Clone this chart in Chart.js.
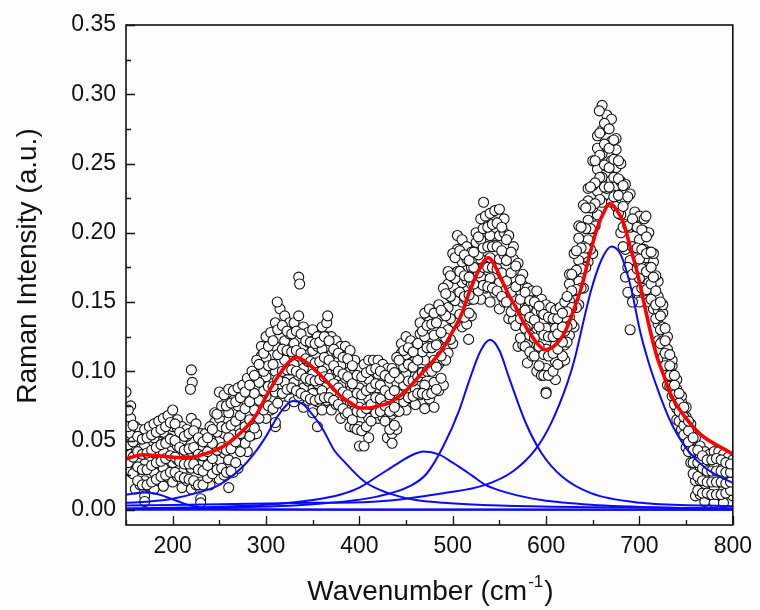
<!DOCTYPE html>
<html>
<head>
<meta charset="utf-8">
<script src="https://cdn.jsdelivr.net/npm/chart.js@4.4.1/dist/chart.umd.min.js"></script>
<style>
  html, body { margin: 0; padding: 0; background: #fdfdfd; }
  #wrap { width: 760px; height: 610px; }
</style>
</head>
<body>
<div id="wrap"><canvas id="raman" width="760" height="610"></canvas></div>
<script>
const wavenumber = [150,155,160,165,170,175,180,185,190,195,200,205,210,215,220,225,230,235,240,245,
  250,255,260,265,270,275,280,285,290,295,300,305,310,315,320,325,330,335,340,345,
  350,355,360,365,370,375,380,385,390,395,400,405,410,415,420,425,430,435,440,445,
  450,455,460,465,470,475,480,485,490,495,500,505,510,515,520,525,530,535,540,545,
  550,555,560,565,570,575,580,585,590,595,600,605,610,615,620,625,630,635,640,645,
  650,655,660,665,670,675,680,685,690,695,700,705,710,715,720,725,730,735,740,745,
  750,755,760,765,770,775,780,785,790,795,800];
const rawLow = [.030,.028,.015,.018,.010,.017,.015,.021,.017,.024,.020,.024,.016,.021,.015,.018,.008,.020,.018,.026,
  .022,.025,.016,.027,.030,.043,.042,.054,.055,.067,.066,.072,.060,.079,.075,.087,.078,.082,.074,.079,
  .070,.078,.072,.079,.072,.076,.066,.069,.060,.059,.046,.057,.052,.066,.066,.067,.052,.055,.058,.074,
  .072,.080,.076,.083,.073,.080,.074,.086,.090,.113,.120,.138,.132,.134,.140,.154,.152,.160,.150,.157,
  .145,.150,.138,.137,.118,.119,.106,.111,.100,.097,.085,.097,.094,.106,.108,.126,.132,.148,.160,.179,
  .185,.213,.222,.232,.222,.219,.200,.168,.130,.154,.150,.158,.150,.145,.122,.110,.090,.082,.065,.058,
  .045,.034,.010,.011,.006,.011,.005,.011,.005,.012,.010];
const rawQ1 = [.046,.040,.028,.030,.021,.031,.027,.036,.030,.039,.034,.036,.027,.034,.030,.032,.020,.030,.028,.038,
  .036,.041,.036,.047,.046,.059,.056,.068,.068,.082,.082,.091,.085,.099,.092,.101,.092,.097,.088,.093,
  .084,.091,.086,.095,.085,.089,.078,.082,.072,.072,.060,.071,.066,.078,.076,.078,.066,.069,.071,.086,
  .086,.092,.087,.099,.090,.100,.092,.105,.108,.130,.136,.156,.150,.151,.152,.168,.168,.176,.167,.175,
  .164,.168,.154,.153,.134,.134,.120,.125,.115,.114,.102,.112,.107,.118,.119,.139,.146,.165,.176,.195,
  .203,.230,.240,.248,.238,.234,.213,.188,.156,.173,.167,.175,.164,.157,.134,.122,.100,.090,.073,.065,
  .053,.043,.021,.021,.015,.020,.015,.021,.014,.020,.017];
const rawMid = [.058,.055,.040,.041,.033,.043,.041,.049,.042,.052,.049,.046,.038,.041,.042,.043,.032,.040,.040,.050,
  .050,.055,.052,.062,.060,.071,.070,.082,.082,.097,.096,.105,.100,.115,.108,.115,.105,.111,.102,.107,
  .098,.103,.100,.109,.098,.101,.090,.095,.086,.087,.074,.085,.080,.090,.088,.089,.078,.083,.084,.099,
  .098,.104,.097,.112,.108,.118,.108,.122,.125,.146,.152,.172,.164,.166,.163,.180,.181,.190,.182,.191,
  .181,.184,.168,.167,.148,.148,.133,.138,.129,.128,.116,.125,.119,.129,.129,.151,.158,.180,.190,.209,
  .218,.246,.257,.262,.252,.247,.225,.206,.180,.189,.181,.188,.175,.168,.144,.132,.108,.097,.080,.071,
  .060,.050,.031,.031,.024,.028,.024,.030,.022,.027,.023];
const rawQ3 = [.072,.066,.050,.052,.046,.054,.052,.059,.056,.063,.060,.059,.050,.053,.056,.056,.046,.051,.051,.063,
  .066,.071,.070,.079,.075,.084,.083,.094,.095,.111,.110,.120,.118,.132,.122,.127,.120,.129,.118,.121,
  .115,.118,.116,.125,.112,.114,.104,.111,.100,.101,.088,.099,.094,.102,.098,.100,.090,.097,.097,.113,
  .112,.116,.108,.127,.125,.136,.126,.139,.142,.163,.168,.188,.179,.181,.175,.193,.195,.205,.198,.208,
  .198,.200,.182,.181,.162,.162,.146,.151,.143,.143,.131,.138,.131,.140,.139,.163,.171,.196,.204,.223,
  .234,.261,.274,.276,.266,.260,.237,.224,.204,.205,.195,.201,.186,.179,.154,.142,.116,.104,.087,.078,
  .067,.058,.042,.040,.033,.036,.033,.038,.031,.034,.030];
const rawHigh = [.085,.075,.060,.058,.058,.060,.062,.064,.066,.068,.072,.065,.060,.058,.066,.062,.055,.055,.060,.070,
  .085,.083,.087,.086,.088,.090,.095,.100,.108,.118,.125,.128,.135,.145,.140,.135,.135,.140,.132,.128,
  .130,.125,.132,.135,.125,.122,.118,.118,.115,.108,.102,.105,.108,.108,.108,.105,.102,.102,.110,.120,
  .125,.122,.118,.135,.142,.145,.142,.148,.160,.172,.185,.198,.195,.190,.186,.200,.210,.212,.214,.216,
  .217,.210,.198,.190,.178,.170,.160,.158,.158,.152,.148,.146,.144,.146,.150,.170,.185,.205,.220,.232,
  .252,.270,.292,.285,.282,.268,.250,.235,.228,.215,.212,.210,.200,.185,.165,.148,.125,.108,.094,.082,
  .074,.062,.052,.046,.042,.040,.042,.042,.040,.038,.036];

// second pass of the spectrum, between the columns above (4 points per column)
const wavenumberMid = [152.5,157.5,162.5,167.5,172.5,177.5,182.5,187.5,192.5,197.5,
  202.5,207.5,212.5,217.5,222.5,227.5,232.5,237.5,242.5,247.5,
  252.5,257.5,262.5,267.5,272.5,277.5,282.5,287.5,292.5,297.5,
  302.5,307.5,312.5,317.5,322.5,327.5,332.5,337.5,342.5,347.5,
  352.5,357.5,362.5,367.5,372.5,377.5,382.5,387.5,392.5,397.5,
  402.5,407.5,412.5,417.5,422.5,427.5,432.5,437.5,442.5,447.5,
  452.5,457.5,462.5,467.5,472.5,477.5,482.5,487.5,492.5,497.5,
  502.5,507.5,512.5,517.5,522.5,527.5,532.5,537.5,542.5,547.5,
  552.5,557.5,562.5,567.5,572.5,577.5,582.5,587.5,592.5,597.5,
  602.5,607.5,612.5,617.5,622.5,627.5,632.5,637.5,642.5,647.5,
  652.5,657.5,662.5,667.5,672.5,677.5,682.5,687.5,692.5,697.5,
  702.5,707.5,712.5,717.5,722.5,727.5,732.5,737.5,742.5,747.5,
  752.5,757.5,762.5,767.5,772.5,777.5,782.5,787.5,792.5,797.5];
const midA = [.034,.026,.021,.018,.018,.020,.022,.024,.025,.027,
  .027,.024,.023,.022,.021,.018,.018,.023,.026,.029,
  .030,.027,.028,.034,.042,.048,.053,.059,.066,.072,
  .075,.073,.077,.084,.087,.088,.086,.084,.082,.080,
  .079,.080,.081,.081,.079,.076,.073,.070,.065,.058,
  .057,.060,.064,.070,.071,.064,.058,.061,.071,.078,
  .081,.082,.084,.084,.083,.084,.087,.095,.108,.123,
  .135,.141,.139,.142,.152,.158,.162,.161,.160,.158,
  .154,.150,.143,.133,.124,.118,.114,.111,.104,.097,
  .097,.100,.105,.111,.121,.134,.146,.160,.175,.188,
  .205,.224,.233,.233,.226,.214,.190,.157,.150,.158,
  .160,.159,.152,.138,.120,.104,.089,.076,.064,.054,
  .042,.026,.014,.012,.012,.011,.011,.011,.012,.014];
const midB = [.047,.038,.031,.029,.029,.032,.034,.035,.037,.039,
  .038,.035,.033,.033,.033,.029,.028,.032,.037,.043,
  .045,.043,.044,.049,.055,.060,.065,.072,.079,.086,
  .089,.089,.094,.100,.101,.101,.100,.098,.095,.094,
  .093,.094,.096,.095,.091,.088,.085,.083,.078,.071,
  .070,.073,.076,.081,.080,.075,.071,.074,.083,.090,
  .093,.093,.096,.099,.100,.100,.103,.111,.124,.138,
  .151,.157,.154,.155,.163,.171,.175,.175,.175,.174,
  .171,.165,.157,.147,.138,.131,.126,.124,.118,.112,
  .111,.113,.116,.121,.132,.146,.159,.174,.189,.203,
  .221,.240,.249,.247,.240,.227,.204,.175,.170,.174,
  .174,.172,.163,.148,.130,.113,.097,.083,.071,.061,
  .049,.034,.024,.021,.020,.020,.020,.020,.019,.020];
const midC = [.060,.049,.042,.040,.041,.043,.045,.047,.048,.051,
  .050,.045,.043,.044,.045,.040,.039,.042,.048,.056,
  .060,.059,.061,.064,.068,.073,.078,.084,.092,.100,
  .104,.105,.112,.116,.115,.114,.115,.113,.109,.107,
  .106,.107,.110,.108,.104,.100,.098,.096,.091,.084,
  .083,.086,.088,.091,.090,.086,.083,.086,.095,.103,
  .105,.103,.108,.114,.117,.117,.119,.128,.140,.154,
  .167,.172,.169,.168,.175,.184,.189,.190,.190,.190,
  .187,.180,.171,.161,.152,.144,.139,.137,.132,.126,
  .125,.125,.127,.132,.143,.158,.173,.189,.203,.218,
  .236,.256,.264,.261,.253,.239,.219,.205,.190,.189,
  .188,.185,.175,.158,.140,.122,.104,.090,.077,.067,
  .057,.043,.034,.030,.028,.028,.028,.028,.027,.027];
const midD = [.072,.061,.053,.051,.052,.054,.056,.058,.060,.063,
  .062,.056,.053,.055,.057,.052,.049,.052,.058,.069,
  .075,.075,.077,.078,.081,.085,.090,.097,.105,.113,
  .118,.122,.130,.133,.129,.127,.129,.127,.122,.121,
  .120,.121,.125,.122,.116,.113,.110,.109,.104,.097,
  .096,.099,.101,.102,.100,.097,.095,.099,.108,.115,
  .117,.114,.120,.129,.133,.134,.135,.144,.156,.169,
  .182,.187,.184,.180,.186,.197,.203,.204,.206,.207,
  .204,.195,.186,.176,.166,.157,.151,.150,.147,.141,
  .139,.138,.138,.142,.154,.170,.187,.204,.218,.233,
  .252,.272,.279,.275,.267,.252,.234,.226,.210,.204,
  .202,.197,.186,.169,.150,.131,.112,.097,.084,.074,
  .064,.052,.043,.039,.036,.036,.037,.036,.034,.033];

// stray points outside the main cloud
const strayX = [170,220,221,219,230,312,310,335,336,355,366,405,435,517,533,600,657,707,715];
const strayY = [.006,.101,.092,.087,.005,.150,.063,.168,.163,.060,.140,.046,.048,.123,.222,.084,.288,.212,.168];

// fitted components (blue)
const band1X = [150,160,170,180,190,200,210,220,235,260,300,400,800];
const band1Y = [.0108,.0120,.0125,.0120,.0100,.0075,.0050,.0030,.0012,.0005,.0003,.0002,.0001];
const band2X = [150,175,200,225,250,275,290,300,315,329,340,350,361,373,382,406,431,459,490,550,650,800];
const band2Y = [.005,.006,.008,.012,.018,.031,.043,.053,.070,.0786,.076,.0685,.058,.043,.036,.020,.012,.0072,.005,.003,.0018,.001];
const band3X = [150,200,250,300,350,380,400,419,440,455,469,485,500,520,535,560,595,648,735,800];
const band3Y = [.001,.0015,.0022,.0036,.007,.011,.016,.024,.033,.039,.042,.040,.034,.025,.018,.012,.007,.0036,.0015,.001];
const band4X = [150,250,350,419,454,472,490,507,517,530,540,550,560,578,595,617,648,702,772,800];
const band4Y = [.0008,.0015,.004,.0095,.017,.026,.046,.072,.092,.115,.1227,.115,.096,.063,.041,.024,.012,.005,.003,.0025];
const band5X = [150,250,350,419,490,535,565,588,605,623,631,640,648,659,670,680,691,701,710,719,728,736,754,771,798,800];
const band5Y = [.003,.004,.005,.006,.012,.018,.028,.043,.062,.092,.110,.136,.158,.180,.190,.184,.160,.128,.106,.088,.072,.060,.041,.030,.020,.0195];
const baseX = [150,800];
const baseY = [0,0];

// cumulative fit (red)
const fitX = [150,168,185,200,214,235,257,278,290,300,314,325,333,340,349,360,370,380,391,400,
  410,420,431,443,453,466,477,488,501,510,516,528,538,551,560,567,576,585,592,599,
  610,620,630,638,647,655,662,668,675,683,690,697,705,712,719,726,733,740,750,760,770,782,798,800];
const fitY = [.0367,.0397,.039,.038,.0375,.0404,.047,.059,.069,.0817,.0974,.107,.110,.108,.1034,.096,.089,.082,.077,.0735,
  .0735,.075,.077,.082,.088,.098,.106,.115,.130,.142,.154,.173,.182,.168,.155,.147,.135,.125,.119,.1155,
  .119,.128,.145,.161,.185,.204,.215,.221,.217,.207,.190,.173,.149,.128,.110,.097,.084,.0755,.066,.058,.052,.047,.041,.040];

// axis ticks
const xLabelTicks = [200,300,400,500,600,700,800];
const xMinorTicks = [150,250,350,450,550,650,750];
const yLabelTicks = [0,0.05,0.10,0.15,0.20,0.25,0.30,0.35];
const yMinorTicks = [0.025,0.075,0.125,0.175,0.225,0.275,0.325];

const FONT = "'Liberation Sans', Arial, sans-serif";
const INK = "#111";

function pairs(xs, ys) {
    return xs.map((x, i) => ({ x: x, y: ys[i] }));
}

function cloud() {
    const pts = [];
    [rawLow, rawQ1, rawMid, rawQ3, rawHigh].forEach((ys) => {
        pts.push(...pairs(wavenumber, ys));
    });
    [midA, midB, midC, midD].forEach((ys) => {
        pts.push(...pairs(wavenumberMid, ys));
    });
    pts.push(...pairs(strayX, strayY));
    return pts;
}

function band(xs, ys) {
    return {
        data: pairs(xs, ys),
        borderColor: "#0a0aff",
        borderWidth: 2,
        pointRadius: 0,
        fill: false,
        cubicInterpolationMode: "monotone",
    };
}

// frame, inward ticks and axis titles
const framePlugin = {
    id: "frame",
    afterDraw(chart) {
        const ctx = chart.ctx;
        const a = chart.chartArea;
        const xs = chart.scales.x;
        const ys = chart.scales.y;
        ctx.save();
        ctx.strokeStyle = INK;
        ctx.lineWidth = 1.6;
        ctx.strokeRect(a.left, a.top, a.right - a.left, a.bottom - a.top);

        ctx.lineWidth = 1.3;
        ctx.beginPath();
        xLabelTicks.forEach((v) => {
            const p = Math.round(xs.getPixelForValue(v)) + 0.5;
            ctx.moveTo(p, a.bottom); ctx.lineTo(p, a.bottom - 9);
        });
        xMinorTicks.forEach((v) => {
            const p = Math.round(xs.getPixelForValue(v)) + 0.5;
            ctx.moveTo(p, a.bottom); ctx.lineTo(p, a.bottom - 5);
        });
        yLabelTicks.forEach((v) => {
            const p = Math.round(ys.getPixelForValue(v)) + 0.5;
            ctx.moveTo(a.left, p); ctx.lineTo(a.left + 9, p);
        });
        yMinorTicks.forEach((v) => {
            const p = Math.round(ys.getPixelForValue(v)) + 0.5;
            ctx.moveTo(a.left, p); ctx.lineTo(a.left + 5, p);
        });
        ctx.stroke();

        // y title
        ctx.fillStyle = INK;
        ctx.save();
        ctx.translate(36, 266);
        ctx.rotate(-Math.PI / 2);
        ctx.font = "28px " + FONT;
        ctx.textAlign = "center";
        ctx.textBaseline = "alphabetic";
        ctx.fillText("Raman Intensity (a.u.)", 0, 0);
        ctx.restore();

        // x title with superscript
        const main = "Wavenumber (cm";
        const sup = "-1";
        const tail = ")";
        ctx.textBaseline = "alphabetic";
        ctx.textAlign = "left";
        ctx.font = "28px " + FONT;
        const w1 = ctx.measureText(main).width;
        const w3 = ctx.measureText(tail).width;
        ctx.font = "17px " + FONT;
        const w2 = ctx.measureText(sup).width;
        const x0 = (a.left + a.right) / 2 - (w1 + w2 + w3) / 2;
        const base = 600;
        ctx.font = "28px " + FONT;
        ctx.fillText(main, x0, base);
        ctx.font = "17px " + FONT;
        ctx.fillText(sup, x0 + w1 + 1, base - 13);
        ctx.font = "28px " + FONT;
        ctx.fillText(tail, x0 + w1 + w2 + 2, base);
        ctx.restore();
    },
};

new Chart(document.getElementById("raman"), {
    type: "line",
    data: {
        datasets: [
            {
                data: pairs(fitX, fitY),
                borderColor: "#ff0000",
                borderWidth: 3.6,
                pointRadius: 0,
                fill: false,
                cubicInterpolationMode: "monotone",
            },
            band(band5X, band5Y),
            band(band4X, band4Y),
            band(band3X, band3Y),
            band(band2X, band2Y),
            band(band1X, band1Y),
            band(baseX, baseY),
            {
                type: "scatter",
                data: cloud(),
                showLine: false,
                pointRadius: 5,
                pointBorderWidth: 1.1,
                pointBorderColor: "#111",
                pointBackgroundColor: "#ffffff",
            },
        ],
    },
    options: {
        responsive: false,
        animation: false,
        events: [],
        layout: { padding: { left: 0, top: 25, right: 20, bottom: 0 } },
        plugins: {
            legend: { display: false },
            tooltip: { enabled: false },
        },
        scales: {
            x: {
                type: "linear",
                min: 150,
                max: 800,
                grid: { display: false, drawTicks: false },
                border: { display: false },
                afterBuildTicks: (s) => { s.ticks = xLabelTicks.map((v) => ({ value: v })); },
                afterFit: (s) => { s.height = 85; },
                ticks: {
                    padding: 8,
                    color: INK,
                    font: { family: FONT, size: 23 },
                    maxRotation: 0,
                    callback: (v) => String(v),
                },
            },
            y: {
                type: "linear",
                min: -0.011,
                max: 0.35,
                grid: { display: false, drawTicks: false },
                border: { display: false },
                afterBuildTicks: (s) => { s.ticks = yLabelTicks.map((v) => ({ value: v })); },
                afterFit: (s) => { s.width = 126; },
                ticks: {
                    padding: 10,
                    color: INK,
                    font: { family: FONT, size: 23 },
                    callback: (v) => Number(v).toFixed(2),
                },
            },
        },
    },
    plugins: [framePlugin],
});
</script>
</body>
</html>
